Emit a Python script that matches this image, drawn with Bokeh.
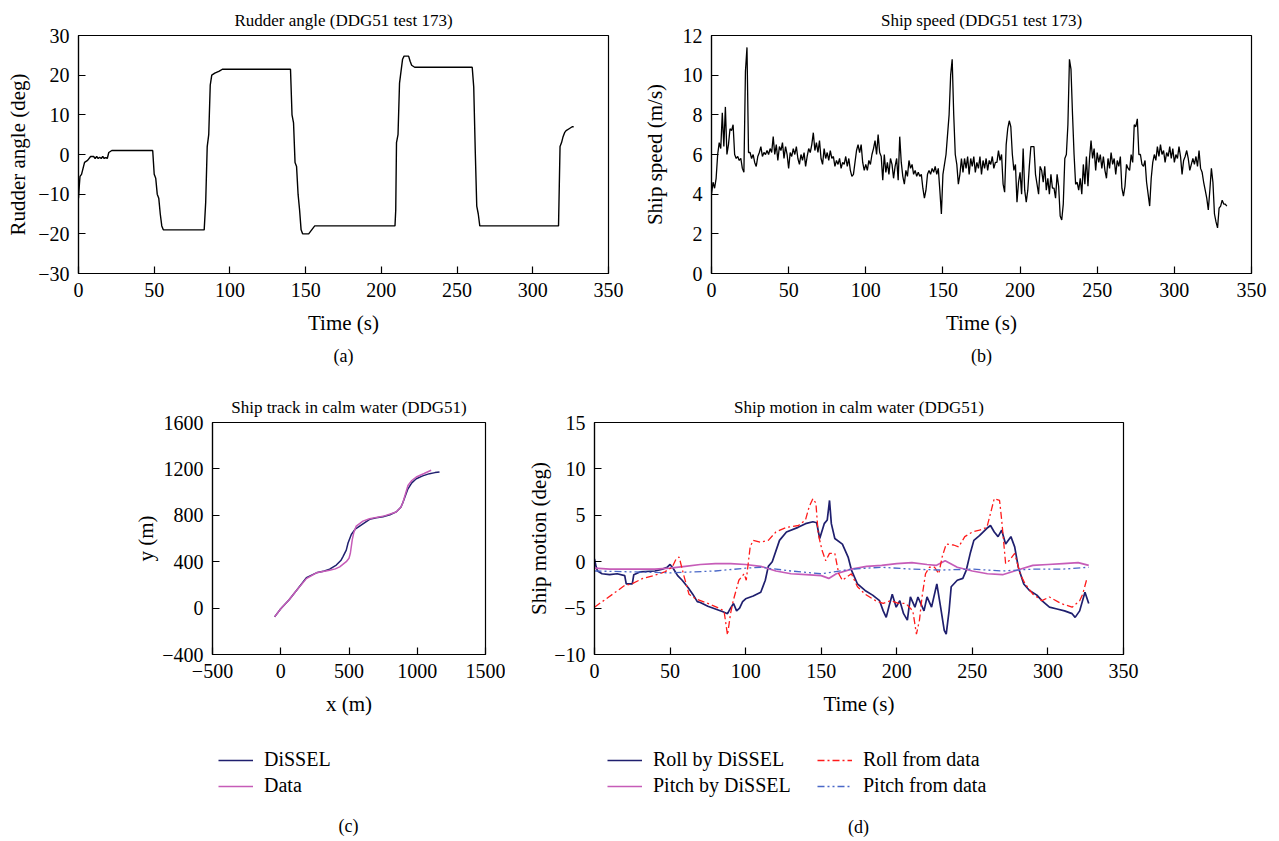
from bokeh.plotting import figure
from bokeh.layouts import column, row
from bokeh.models import Range1d, FixedTicker, Title, Legend, LegendItem, Label
from bokeh.embed import file_html
from bokeh.resources import INLINE

FONT = "Liberation Serif"
NAN = float("nan")

# ---------------- (a) rudder angle ----------------
rudder_t = [0, 0.5, 1, 2, 3, 4, 6, 8, 10, 11, 12, 13, 14, 15, 16, 17, 18, 19, 20, 22,
            49, 50, 51, 52, 53, 54, 55, 56, 83, 84, 85, 86, 87, 88, 90, 93, 95,
            140, 141, 142, 143, 144, 145, 146, 147, 148, 152, 154, 156,
            209, 209.5, 210, 211, 212, 213, 214, 215, 218, 219, 220, 222,
            260, 261, 262, 263, 264, 265, 317, 317.5, 318, 319, 320, 321, 322, 324, 326, 327]
rudder_deg = [-11, -8, -5.5, -5, -3.5, -2, -1.5, -0.5, -0.5, -1, -0.5, -1, -0.7, -1, -0.5, -1, -0.8, -1, 0.5, 1,
              1, -5, -6, -10, -11, -15, -18, -19, -19, -12, 2, 5, 17.5, 20, 20.5, 21, 21.5,
              21.5, 10, 8, -2, -3, -10, -14, -19, -20, -20, -19, -18,
              -18, -14, 3, 5, 18, 21, 24, 24.8, 24.8, 23.5, 22.5, 22,
              22, 17, 1, -13, -15, -18, -18, -8, 2, 3, 4.5, 5.5, 6, 6.5, 7, 7]

# ---------------- (b) ship speed ----------------
speed_t = list(range(335))
speed_v = [4.0, 4.6, 4.3, 4.8, 6.0, 6.6, 6.3, 8.1, 6.4, 8.4,
           6.0, 6.5, 7.3, 7.2, 7.5, 6.0, 5.8, 5.9, 5.7, 5.8,
           5.3, 5.1, 10.2, 11.4, 6.1, 6.1, 5.8, 6.0, 5.6, 5.4,
           5.9, 6.1, 6.4, 5.9, 6.1, 6.0, 6.2, 6.0, 6.3, 6.1,
           6.9, 6.0, 6.5, 5.7, 6.4, 6.2, 6.6, 5.8, 6.4, 6.0,
           5.3, 6.1, 5.9, 6.3, 6.0, 6.4, 5.8, 5.5, 6.0, 5.7,
           6.1, 5.4, 5.9, 6.3, 6.1, 6.5, 7.1, 6.2, 6.6, 6.1,
           6.7, 5.8, 5.5, 6.3, 5.8, 6.1, 5.7, 6.2, 5.8, 5.9,
           5.4, 5.7, 5.5, 5.8, 5.3, 5.6, 5.5, 5.9, 5.4, 5.8,
           5.2, 4.9, 5.0, 5.6, 6.2, 6.5, 6.1, 6.5, 5.6, 5.2,
           5.5, 5.2, 5.7, 5.5, 6.0, 6.3, 6.7, 6.0, 7.0, 6.1,
           5.9, 4.7, 6.0, 5.1, 5.6, 5.0, 5.8, 5.5, 4.8, 5.4,
           5.8, 4.7, 6.9, 5.6, 4.9, 4.5, 5.2, 4.9, 5.7, 5.3,
           5.5, 5.0, 5.2, 4.9, 5.1, 4.9, 5.0, 4.3, 3.8, 4.2,
           5.0, 5.2, 5.0, 5.3, 5.1, 5.4, 5.0, 5.3, 4.2, 3.0,
           5.0, 5.5, 6.0, 7.0, 8.0, 10.0, 10.8, 8.0, 6.0, 5.5,
           4.5, 5.0, 5.8, 5.1, 5.8, 5.3, 5.9, 5.0, 5.8, 5.4,
           5.9, 5.1, 5.6, 5.3, 5.9, 5.0, 5.7, 5.3, 5.8, 5.2,
           5.7, 5.5, 5.9, 5.3, 5.6, 5.6, 6.2, 5.7, 6.0, 4.5,
           4.1, 6.5, 7.3, 7.7, 7.4, 6.0, 5.2, 5.5, 3.6, 4.6,
           5.1, 4.0, 6.3, 4.2, 3.6, 4.2, 5.4, 6.4, 6.4, 6.4,
           5.0, 4.5, 4.0, 5.4, 5.2, 4.6, 5.4, 4.2, 4.8, 4.0,
           5.0, 4.3, 4.3, 3.8, 5.0, 4.4, 2.9, 2.7, 3.5, 5.8,
           6.0, 7.5, 10.8, 10.3, 8.0, 6.0, 4.5, 4.6, 4.2, 4.8,
           4.0, 5.5, 4.5, 5.9, 4.4, 5.8, 6.7, 5.8, 6.3, 5.2,
           6.1, 5.6, 6.0, 5.3, 5.9, 5.2, 4.8, 5.8, 5.3, 6.1,
           5.5, 5.8, 5.0, 5.7, 5.4, 5.9, 4.3, 3.9, 4.4, 5.5,
           5.3, 5.2, 6.0, 5.6, 7.5, 7.4, 7.8, 6.0, 6.0, 5.5,
           5.4, 5.7, 4.6, 4.0, 3.4, 4.8, 5.6, 6.0, 5.7, 6.4,
           5.9, 6.5, 6.0, 6.2, 5.6, 6.1, 5.9, 6.4, 5.8, 6.3,
           5.6, 6.0, 5.8, 6.4, 5.9, 5.0, 5.7, 5.9, 6.2, 5.8,
           5.2, 5.5, 5.8, 5.5, 5.9, 5.4, 6.2, 5.3, 5.1, 4.6,
           4.2, 3.8, 3.2, 4.2, 5.3, 4.6, 3.0, 2.6, 2.3, 3.3,
           3.4, 3.7, 3.5, 3.5, 3.4]

# ---------------- (c) ship track ----------------
track_dissel_x = [-45, 0, 60, 115, 188, 261, 320, 358, 407, 440, 456, 480, 493, 517, 545, 578, 651, 700, 749, 800,
                  846, 880, 895, 915, 932, 960, 993, 1040, 1090, 1130, 1163]
track_dissel_y = [-76, -5, 70, 152, 263, 304, 320, 336, 371, 410, 444, 500, 561, 634, 680, 707, 765, 778, 788, 805,
                  829, 870, 911, 975, 1028, 1080, 1115, 1140, 1159, 1168, 1174]
track_data_x = [-45, 0, 60, 115, 188, 261, 320, 358, 400, 432, 480, 500, 510, 524, 535, 553, 602, 650, 700, 760,
                846, 880, 895, 915, 932, 960, 993, 1050, 1102]
track_data_y = [-76, -5, 70, 152, 254, 304, 318, 327, 338, 356, 400, 430, 473, 590, 650, 707, 750, 770, 782, 795,
                829, 870, 911, 990, 1057, 1100, 1130, 1160, 1188]

# ---------------- (d) ship motion ----------------
roll_dissel_t = [0, 1, 2, 5, 10, 15, 20, 21, 25, 26, 30, 40, 45, 48, 50, 52, 55, 58, 62, 65,
                 68, 70, 75, 80, 85, 88, 90, 92, 94, 96, 98, 100, 105, 110, 113, 115, 117.6, 122.4, 127, 134.7,
                 139.6, 144.5, 147, 149, 152, 154, 155.5, 156.7, 159, 164, 167.8, 170, 174, 179, 184, 188.6, 191, 193, 194.7, 197,
                 199.6, 202, 204.5, 207, 209, 212, 214, 218, 220, 223, 226.5, 229, 231.4, 232.7, 234.6, 236, 240, 243.7, 246, 248.6,
                 251, 254.7, 259.6, 262, 264.5, 267, 269.4, 272, 275.5, 278, 280.4, 284, 287.8, 292.7, 296, 301, 306, 311, 316, 318,
                 321, 324.5, 327]
roll_dissel = [0.3, -0.5, -1.0, -1.3, -1.4, -1.3, -1.5, -2.4, -2.4, -1.4, -1.1, -1.0, -0.8, -0.6, -0.3, -0.7, -1.5, -2.0, -2.8, -3.5,
               -4.3, -4.4, -4.8, -5.1, -5.4, -5.6, -5.0, -4.5, -5.3, -5.0, -4.3, -4.0, -3.7, -3.3, -2.0, -0.5, 0.0, 2.3, 3.2, 3.7,
               4.1, 4.3, 4.2, 2.5, 4.1, 4.5, 6.6, 4.1, 2.5, 1.9, 0.5, -0.9, -2.4, -3.1, -3.6, -4.2, -5.3, -6.0, -4.9, -3.5,
               -4.9, -4.2, -5.6, -6.3, -3.8, -4.9, -3.8, -5.3, -3.8, -4.9, -2.4, -4.9, -7.4, -7.8, -5.3, -2.7, -2.0, -1.8, -0.9, 0.9,
               2.3, 2.8, 3.6, 3.9, 3.2, 2.7, 3.4, 1.9, 2.7, 1.6, -0.6, -2.4, -3.1, -3.6, -4.2, -4.9, -5.1, -5.3, -5.6, -6.0,
               -5.3, -3.3, -4.5]
pitch_dissel_t = [0, 10, 20, 30, 40, 50, 60, 70, 80, 90, 100, 110, 120, 130, 140, 150, 155, 160, 170, 180,
                  190, 200, 210, 220, 226, 232, 240, 250, 260, 270, 280, 290, 300, 310, 320, 327]
pitch_dissel = [-0.7, -0.8, -0.8, -0.8, -0.8, -0.7, -0.5, -0.3, -0.2, -0.2, -0.3, -0.5, -1.0, -1.3, -1.4, -1.5, -1.8, -1.3, -0.8, -0.5,
                -0.4, -0.2, -0.1, -0.3, -0.4, 0.1, -0.6, -1.0, -1.3, -1.4, -0.9, -0.4, -0.3, -0.2, -0.1, -0.4]
roll_data_t = [0, 12, 19.6, 24.5, 32, 39, 46.5, 51.4, 54, 56, 58.8, 62.5, 67, 73.5, 80.8, 85.7, 88, 90, 91.8, 95.5,
               99, 100.4, 103, 105, 110, 115, 120, 127, 135, 139.6, 142, 144.5, 146.5, 148, 150.6, 153, 155.5, 159, 161.6, 164,
               166.5, 170, 174, 179, 186, 191, 196, 201, 206, 210.6, 213, 215, 216.7, 219, 221.6, 225, 227.8, 230, 232.7, 237.6,
               241, 245, 250, 254.7, 259.6, 262, 264.5, 268, 269.4, 272, 274.3, 278, 281.6, 285, 290, 296, 301, 308.6, 316, 321,
               323, 326]
roll_data = [-4.9, -3.5, -2.6, -2.4, -1.8, -1.5, -1.1, -0.6, 0.3, 0.5, -1.3, -3.5, -4.0, -4.4, -4.9, -5.3, -7.9, -5.6, -4.2, -2.0,
             -1.3, -2.0, 1.6, 2.3, 2.1, 2.3, 3.2, 3.7, 3.9, 4.5, 5.9, 6.8, 6.3, 3.0, 1.2, 0.1, 0.9, 0.9, -1.3, -2.0,
             -1.7, -1.3, -2.7, -3.5, -4.2, -4.5, -4.2, -4.5, -4.5, -5.3, -7.8, -6.3, -3.8, -1.3, -0.6, -0.6, -1.3, 0.5, 1.9, 1.8,
             1.6, 2.7, 3.2, 3.4, 3.7, 5.2, 6.8, 6.6, 4.5, -0.2, 0.1, 0.9, -1.3, -2.4, -3.5, -4.2, -3.8, -4.5, -4.9, -4.2,
             -3.5, -1.7]
pitch_data_t = [0, 25, 50, 80, 100, 110, 130, 150, 170, 190, 210, 230, 250, 270, 290, 310, 327]
pitch_data = [-1.0, -1.1, -1.2, -1.0, -0.7, -0.6, -1.0, -1.3, -0.8, -0.6, -0.8, -0.9, -0.8, -1.0, -0.8, -0.8, -0.6]

# tick labels
time_ticks = [0, 50, 100, 150, 200, 250, 300, 350]
rudder_ticks = [-30, -20, -10, 0, 10, 20, 30]
speed_ticks = [0, 2, 4, 6, 8, 10, 12]
track_x_ticks = [-500, 0, 500, 1000, 1500]
track_y_ticks = [-400, 0, 400, 800, 1200, 1600]
motion_ticks = [-10, -5, 0, 5, 10, 15]

# legend labels
track_labels = ["DiSSEL", "Data"]
motion_labels = ["Roll by DiSSEL", "Pitch by DiSSEL", "Roll from data", "Pitch from data"]

NAVY = "#1f1f6e"
ORCHID = "#c65cb8"
RED = "#ff1a1a"
BLUE = "#4a68c8"
ROLL_DATA_DASH = "7 3 2 3"
PITCH_DATA_DASH = "7 3 2 3 2 3"


def make_fig(title, xr, yr, xt, yt, xlabel, ylabel, fw, fh, bl, br, bt, bb, ylab_standoff):
    p = figure(frame_width=fw, frame_height=fh, min_border_left=bl, min_border_right=br,
               min_border_top=bt, min_border_bottom=bb, x_range=Range1d(*xr), y_range=Range1d(*yr),
               title=title, output_backend="svg", toolbar_location=None)
    p.outline_line_color = "black"
    p.outline_line_width = 1.2
    p.outline_line_alpha = 1
    p.xgrid.visible = False
    p.ygrid.visible = False
    p.background_fill_color = "white"
    p.border_fill_color = "white"
    p.xaxis.ticker = FixedTicker(ticks=xt)
    p.yaxis.ticker = FixedTicker(ticks=yt)
    p.xaxis.major_label_overrides = {v: ("\u2212" + str(abs(v)) if v < 0 else str(v)) for v in xt}
    p.yaxis.major_label_overrides = {v: ("\u2212" + str(abs(v)) if v < 0 else str(v)) for v in yt}
    p.xaxis.axis_label = xlabel
    p.yaxis.axis_label = ylabel
    for ax in (p.xaxis[0], p.yaxis[0]):
        ax.major_tick_in = 7
        ax.major_tick_out = 0
        ax.major_tick_line_color = "black"
        ax.major_tick_line_width = 1.2
        ax.minor_tick_line_color = None
        ax.axis_line_color = "black"
        ax.axis_line_width = 1.2
        ax.major_label_text_font = FONT
        ax.major_label_text_font_size = "20px"
        ax.major_label_text_color = "black"
        ax.axis_label_text_font = FONT
        ax.axis_label_text_font_size = "21px"
        ax.axis_label_text_font_style = "normal"
        ax.axis_label_text_color = "black"
        ax.major_label_standoff = 9
    p.xaxis[0].axis_label_standoff = 11
    p.yaxis[0].axis_label_standoff = ylab_standoff
    p.title.text_font = FONT
    p.title.text_font_size = "17px"
    p.title.text_font_style = "normal"
    p.title.text_color = "black"
    p.title.align = "center"
    p.title.standoff = 12
    return p


def add_below_title(p, text):
    p.add_layout(Title(text=text, align="center", text_font=FONT, text_font_size="18px",
                       text_font_style="normal", text_color="black", standoff=12), "below")


def legend_fig(width, height):
    f = figure(width=width, height=height, min_border=0, x_range=Range1d(0, 1), y_range=Range1d(0, 1),
               x_axis_type=None, y_axis_type=None, output_backend="svg", toolbar_location=None)
    f.outline_line_color = None
    f.xgrid.visible = False
    f.ygrid.visible = False
    f.background_fill_color = "white"
    f.border_fill_color = "white"
    return f


def style_legend(leg):
    leg.label_text_font = FONT
    leg.label_text_font_size = "20px"
    leg.label_text_color = "black"
    leg.border_line_color = None
    leg.background_fill_alpha = 0
    leg.glyph_width = 35
    leg.glyph_height = 20
    leg.label_height = 20
    leg.label_standoff = 11
    leg.spacing = 3
    leg.padding = 0
    leg.margin = 0


def add_sub_label(f, text, x, y):
    f.add_layout(Label(x=x, y=y, x_units="screen", y_units="screen", text=text,
                       text_align="center", text_baseline="middle", text_font=FONT,
                       text_font_size="18px", text_color="black"))


# ---- (a)
pa = make_fig("Rudder angle (DDG51 test 173)", (0, 350), (-30, 30), time_ticks, rudder_ticks,
              "Time (s)", "Rudder angle (deg)", 530, 238, 78, 30, 35, 104, 5)
pa.line(rudder_t, rudder_deg, line_color="black", line_width=1.4)
add_below_title(pa, "(a)")

# ---- (b)
pb = make_fig("Ship speed (DDG51 test 173)", (0, 350), (0, 12), time_ticks, speed_ticks,
              "Time (s)", "Ship speed (m/s)", 540, 238, 73, 20, 35, 104, 13)
pb.line(speed_t, speed_v, line_color="black", line_width=1.3)
add_below_title(pb, "(b)")

# ---- (c)
pc = make_fig("Ship track in calm water (DDG51)", (-500, 1500), (-400, 1600), track_x_ticks, track_y_ticks,
              "x (m)", "y (m)", 273, 232, 212, 20, 45, 64, 1)
pc.line(track_dissel_x, track_dissel_y, line_color=NAVY, line_width=1.5)
pc.line(track_data_x, track_data_y, line_color=ORCHID, line_width=1.5)

# legend strip under (c): its frame is aligned with the frame of (c)
lc = legend_fig(505, 120)
k1 = lc.line([NAN], [NAN], line_color=NAVY, line_width=1.5)
k2 = lc.line([NAN], [NAN], line_color=ORCHID, line_width=1.5)
leg_c = Legend(items=[LegendItem(label=track_labels[0], renderers=[k1]),
                      LegendItem(label=track_labels[1], renderers=[k2])],
               location=(6, 41), orientation="vertical")
style_legend(leg_c)
lc.add_layout(leg_c, "center")
add_sub_label(lc, "(c)", 136, 13)

# ---- (d)
pd_ = make_fig("Ship motion in calm water (DDG51)", (0, 350), (-10, 15), time_ticks, motion_ticks,
               "Time (s)", "Ship motion (deg)", 529, 232, 89, 20, 45, 64, 0)
pd_.line(roll_dissel_t, roll_dissel, line_color=NAVY, line_width=1.7)
pd_.line(pitch_dissel_t, pitch_dissel, line_color=ORCHID, line_width=1.7)
pd_.line(roll_data_t, roll_data, line_color=RED, line_width=1.3, line_dash=ROLL_DATA_DASH)
pd_.line(pitch_data_t, pitch_data, line_color=BLUE, line_width=1.3, line_dash=PITCH_DATA_DASH)

ld = legend_fig(638, 120)
m1 = ld.line([NAN], [NAN], line_color=NAVY, line_width=1.7)
m2 = ld.line([NAN], [NAN], line_color=ORCHID, line_width=1.7)
m3 = ld.line([NAN], [NAN], line_color=RED, line_width=1.3, line_dash=ROLL_DATA_DASH)
m4 = ld.line([NAN], [NAN], line_color=BLUE, line_width=1.3, line_dash=PITCH_DATA_DASH)
leg_d = Legend(items=[LegendItem(label=lab, renderers=[r]) for lab, r in zip(motion_labels, [m1, m2, m3, m4])],
               location=(13, 41), orientation="vertical", ncols=2)
style_legend(leg_d)
leg_d.label_width = 161
ld.add_layout(leg_d, "center")
add_sub_label(ld, "(d)", 264, 12)

layout = column(row(pa, pb), row(column(pc, lc), column(pd_, ld)))
open("out.html", "w").write(file_html(layout, INLINE, title="DDG51"))
